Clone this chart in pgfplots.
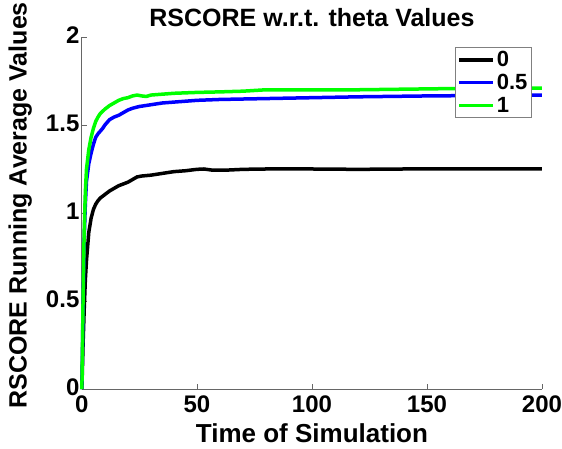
\documentclass[border=0pt]{standalone}
\usepackage{fontspec}
\setmainfont{Liberation Sans}
\usepackage{pgfplots}
\pgfplotsset{compat=1.18}
\begin{document}
\begin{tikzpicture}[x=1pt,y=1pt]
\begin{axis}[
  scale only axis,
  width=460pt, height=352pt,
  xmin=0, xmax=200, ymin=0, ymax=2,
  axis x line=bottom, axis y line=left,
  axis line style={-, draw=black!60, line width=1pt},
  tick align=inside,
  major tick length=5pt,
  tick style={black!60, line width=0.8pt},
  xtick={0,50,100,150,200},
  xticklabels={0,50,100,150,200},
  ytick={0,0.5,1,1.5,2},
  yticklabels={0,0.5,1,1.5,2},
  /pgf/number format/assume math mode=true,
  tick label style={font=\fontsize{24}{24}\selectfont\bfseries\boldmath},
  yticklabel style={xshift=1pt, yshift=1.5pt},
  xticklabel style={yshift=-3pt},
  xlabel={Time of Simulation},
  ylabel={RSCORE Running Average Values},
  title={RSCORE w.r.t. theta Values},
  every axis x label/.style={at={(rel axis cs:0.5,-0.126)}, anchor=center, font=\fontsize{26}{26}\selectfont\bfseries},
  every axis y label/.style={at={(rel axis cs:-0.134,0.522)}, rotate=90, anchor=center, font=\fontsize{25}{25}\selectfont\bfseries},
  every axis title/.style={at={(rel axis cs:0.5,1.054)}, anchor=center, font=\fontsize{25}{25}\selectfont\bfseries},
  legend style={at={(rel axis cs:0.978,0.972)}, anchor=north east, draw=black!50, line width=1pt, fill=white,
    font=\fontsize{22}{22}\selectfont\bfseries, inner sep=2pt, row sep=2pt, cells={anchor=west}},
  legend image code/.code={\draw[#1] (0pt,0pt) -- (34pt,0pt);},
  clip=false,
]
\addplot[black, line width=3.5pt] coordinates {
(0,0) (0.5,0.25) (1,0.45) (1.5,0.62) (2,0.73) (3,0.89) (4,0.97) (5,1.02) (6,1.05) (7,1.07) (8,1.085) (10,1.105) (12,1.125) (14,1.14) (16,1.155) (18,1.165) (20,1.175) (22,1.19) (24,1.205) (26,1.21) (30,1.215) (35,1.225) (40,1.235) (45,1.24) (50,1.248) (53,1.25) (57,1.243) (62,1.243) (70,1.248) (80,1.25) (100,1.25) (120,1.248) (140,1.25) (160,1.25) (180,1.25) (200,1.25)};
\addlegendentry{0}
\addplot[blue, line width=3.5pt] coordinates {
(0,0) (0.5,0.45) (1,0.85) (1.5,1.05) (2,1.18) (3,1.28) (4,1.34) (5,1.39) (6,1.43) (7,1.45) (8,1.465) (9,1.48) (10,1.50) (12,1.53) (14,1.545) (16,1.555) (18,1.57) (20,1.585) (22,1.595) (25,1.605) (30,1.615) (35,1.625) (40,1.63) (50,1.64) (60,1.645) (80,1.65) (100,1.655) (120,1.66) (150,1.665) (180,1.668) (200,1.67)};
\addlegendentry{0.5}
\addplot[green, line width=3.5pt] coordinates {
(0,0) (0.5,0.5) (1,0.9) (1.5,1.12) (2,1.25) (3,1.36) (4,1.43) (5,1.48) (6,1.52) (7,1.545) (8,1.565) (10,1.59) (12,1.61) (14,1.625) (16,1.64) (18,1.65) (20,1.655) (22,1.665) (24,1.67) (26,1.665) (28,1.662) (30,1.67) (35,1.675) (40,1.68) (50,1.685) (60,1.688) (70,1.692) (80,1.70) (100,1.70) (120,1.70) (150,1.705) (180,1.71) (200,1.71)};
\addlegendentry{1}
\coordinate (bbl) at (rel axis cs:-0.178,-0.170);
\coordinate (btr) at (rel axis cs:1.0435,1.105);
\end{axis}
\pgfresetboundingbox
\path (bbl) rectangle (btr);
\end{tikzpicture}
\end{document}
